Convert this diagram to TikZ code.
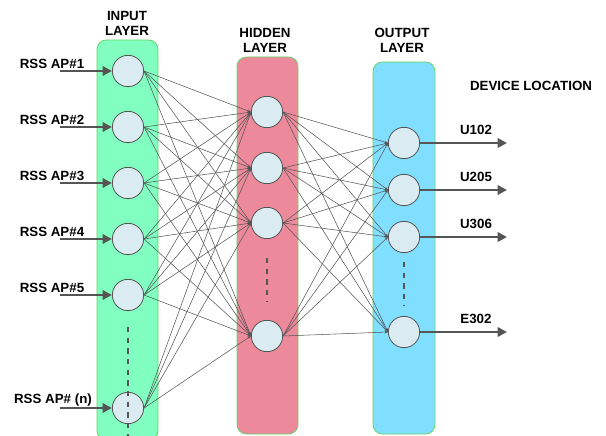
\documentclass[tikz,border=0pt]{standalone}
\usepackage{fontspec}
\setmainfont{Liberation Sans}
\usetikzlibrary{arrows.meta,positioning}

\definecolor{infill}{RGB}{128,255,192}
\definecolor{hidfill}{RGB}{236,138,156}
\definecolor{outfill}{RGB}{128,223,255}
\definecolor{layerline}{RGB}{100,214,100}
\definecolor{unitfill}{RGB}{218,236,242}
\definecolor{darkline}{RGB}{85,85,85}

\begin{document}
\begin{tikzpicture}[
  x=0.75pt, y=-0.75pt,
  font=\fontsize{10}{11.2}\selectfont\bfseries,
  layer/.style={draw=layerline, line width=0.6pt, rounded corners=7pt},
  unit/.style={circle, draw=darkline, fill=unitfill, line width=0.6pt, minimum size=23.5pt, inner sep=0pt},
  link/.style={-{Stealth[length=2.5pt,width=2pt]}, draw=darkline, line width=0.4pt},
  feed/.style={-{Triangle[length=7pt,width=7pt]}, draw=darkline, line width=1.8pt},
  more/.style={draw=darkline, line width=2.2pt, dash pattern=on 4pt off 4pt},
  title/.style={align=center}
]
\useasboundingbox (0,0) rectangle (606,435);

% layer columns
\draw[layer, fill=infill] (97,40) rectangle (158,440);
\draw[layer, fill=hidfill] (237,57) rectangle (298,434);
\draw[layer, fill=outfill] (373,62) rectangle (435,434);

\node[title] (intitle) at (127,23) {INPUT\\LAYER};
\node[title] (hidtitle) at (265,40) {HIDDEN\\LAYER};
\node[title] (outtitle) at (402,40) {OUTPUT\\LAYER};
\node (loctitle) at (531,86) {DEVICE LOCATION};

% units
\foreach \k/\y in {1/71,2/127,3/183,4/239,5/295,6/408}
  \node[unit] (in\k) at (128,\y) {};
\foreach \k/\y in {1/112,2/168,3/223,4/336}
  \node[unit] (hid\k) at (267,\y) {};
\foreach \k/\y in {1/143,2/190,3/237,4/332}
  \node[unit] (out\k) at (404,\y) {};

% full connections
\foreach \i in {1,...,6}
  \foreach \j in {1,...,4}
    \draw[link] (in\i.east) -- (hid\j.west);
\foreach \i in {1,...,4}
  \foreach \j in {1,...,4}
    \draw[link] (hid\i.east) -- (out\j.west);

% inputs
\foreach \k/\y/\t in {1/71/RSS AP\#1,2/127/RSS AP\#2,3/183/RSS AP\#3,4/239/RSS AP\#4,5/295/RSS AP\#5}{
  \node (rss\k) at (52,\y-7) {\t};
  \coordinate (src\k) at (60,\y);
  \draw[feed] (src\k) -- (in\k.west);
}
\node (rss6) at (53,400) {RSS AP\# (n)};
\coordinate (src6) at (60,408);
\draw[feed] (src6) -- (in6.west);

% outputs
\foreach \k/\y/\t in {1/143/U102,2/190/U205,3/237/U306,4/332/E302}{
  \coordinate (dst\k) at (507,\y);
  \draw[feed] (out\k.east) -- (dst\k);
  \node (loc\k) at (476,\y-13) {\t};
}

% skipped units
\draw[more] (128,327) -- (128,436);
\draw[more] (267,258) -- (267,302);
\draw[more] (404,262) -- (404,305);
\end{tikzpicture}
\end{document}
